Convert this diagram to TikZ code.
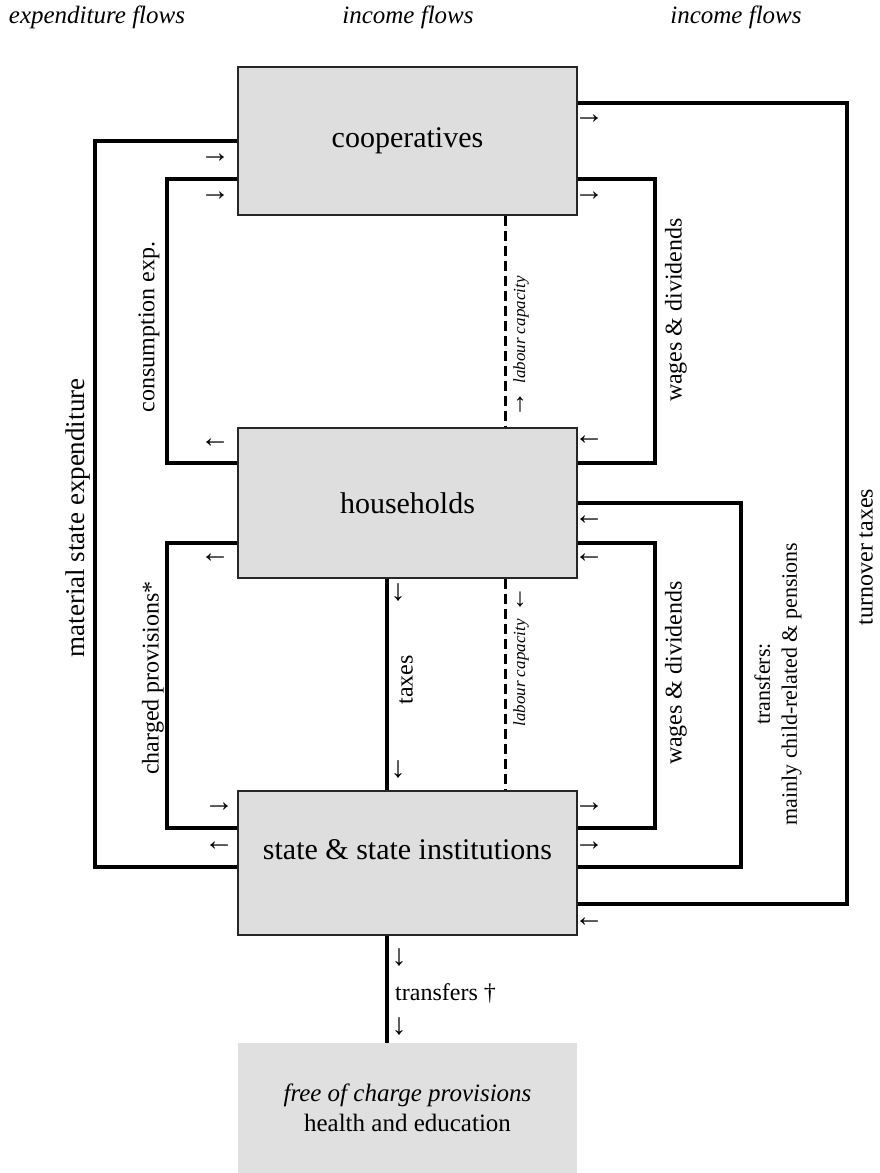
\documentclass[tikz,border=0pt]{standalone}
\usepackage{fontspec}
\setmainfont{Liberation Serif}
\definecolor{boxgray}{RGB}{222,222,222}
\definecolor{freegray}{RGB}{224,224,224}
\begin{document}
\begin{tikzpicture}[x=1pt,y=-1pt,
  box/.style={draw=black!85, line width=1.2pt, fill=boxgray, minimum width=339pt, inner sep=0pt, font=\fontsize{30}{36}\selectfont},
  flow/.style={line width=4pt, line join=miter},
  dflow/.style={line width=3pt, dash pattern=on 10pt off 5pt},
  lab/.style={font=\fontsize{24}{28}\selectfont, inner sep=0pt},
  vlab/.style={lab, rotate=90},
  arr/.style={font=\fontsize{30}{32}\selectfont, inner sep=0pt},
  sarr/.style={font=\fontsize{26}{28}\selectfont, inner sep=0pt},
  hdr/.style={font=\fontsize{25}{30}\selectfont\itshape, inner sep=0pt}]
\useasboundingbox (0,0) rectangle (880,1173);
% headers
\node[hdr] (h1) at (97,17) {expenditure flows};
\node[hdr] (h2) at (408,17) {income flows};
\node[hdr] (h3) at (736,17) {income flows};
% boxes
\node[box, minimum height=148pt] (coop) at (407.5,141) {cooperatives};
\node[box, minimum height=150pt] (hh) at (407.5,503) {households};
\node[box, minimum height=144pt] (st) at (407.5,863) {};
\node[font=\fontsize{30}{36}\selectfont, inner sep=0pt] (sttext) at (407.5,850) {state \& state institutions};
\node[fill=freegray, minimum width=339pt, minimum height=130pt, inner sep=0pt, align=center, font=\fontsize{25}{30}\selectfont] (free) at (407.5,1108) {\textit{free of charge provisions}\\ health and education};
% flows
\draw[flow] (coop.west) -- ++(-142,0) |- ([yshift=-4pt]st.west);
\draw[flow] ([yshift=-38pt]coop.west) -- ++(-70,0) |- ([yshift=40pt]hh.west);
\draw[flow] ([yshift=-40pt]hh.west) -- ++(-70,0) |- ([yshift=35pt]st.west);
\draw[flow] ([xshift=-20.5pt]hh.south) -- ([xshift=-20.5pt]st.north);
\draw[dflow] ([xshift=97.5pt]coop.south) -- ([xshift=97.5pt]hh.north);
\draw[dflow] ([xshift=97.5pt]hh.south) -- ([xshift=97.5pt]st.north);
\draw[flow] ([yshift=-38pt]coop.east) -- ++(77,0) |- ([yshift=40pt]hh.east);
\draw[flow] (hh.east) -- ++(163,0) |- ([yshift=-4pt]st.east);
\draw[flow] ([yshift=-40pt]hh.east) -- ++(77,0) |- ([yshift=35pt]st.east);
\draw[flow] ([yshift=38pt]coop.east) -- ++(269,0) |- ([yshift=-41pt]st.east);
\draw[flow] ([xshift=-20.5pt]st.south) -- ([xshift=-20.5pt]free.north);
% small arrows
\node[arr] (a1) at (215,158) {→};
\node[arr] (a2) at (215,196) {→};
\node[arr] (a3) at (589,119) {→};
\node[arr] (a4) at (589,196) {→};
\node[arr] (a5) at (215,443) {←};
\node[arr] (a6) at (215,558) {←};
\node[arr] (a7) at (589,440) {←};
\node[arr] (a8) at (589,520) {←};
\node[arr] (a9) at (589,558) {←};
\node[arr] (a10) at (219,807) {→};
\node[arr] (a11) at (219,846) {←};
\node[arr] (a12) at (589,807) {→};
\node[arr] (a13) at (589,846) {→};
\node[arr] (a14) at (589,922) {←};
\node[arr] (a15) at (398,593) {↓};
\node[arr] (a16) at (398,770) {↓};
\node[arr] (a17) at (399,958) {↓};
\node[arr] (a18) at (399,1027) {↓};
\node[sarr] (a19) at (520,405) {↑};
\node[sarr] (a20) at (520,600) {↓};
% labels
\node[vlab, font=\fontsize{27}{30}\selectfont] (l1) at (78,518) {material state expenditure};
\node[vlab] (l2) at (149,327) {consumption exp.};
\node[vlab] (l3) at (153,678) {charged provisions*};
\node[vlab] (l4) at (406,680) {taxes};
\node[vlab] (l5) at (676,310) {wages \& dividends};
\node[vlab] (l6) at (676,673) {wages \& dividends};
\node[vlab, align=center, font=\fontsize{22}{27}\selectfont] (l7) at (778,684) {transfers:\\ mainly child-related \& pensions};
\node[vlab] (l8) at (866,557) {turnover taxes};
\node[lab, anchor=west] (l9) at (395,993) {transfers †};
\node[rotate=90, inner sep=0pt, font=\fontsize{17}{20}\selectfont\itshape] (l10) at (521,330) {labour capacity};
\node[rotate=90, inner sep=0pt, font=\fontsize{17}{20}\selectfont\itshape] (l11) at (521,673) {labour capacity};
\end{tikzpicture}
\end{document}
